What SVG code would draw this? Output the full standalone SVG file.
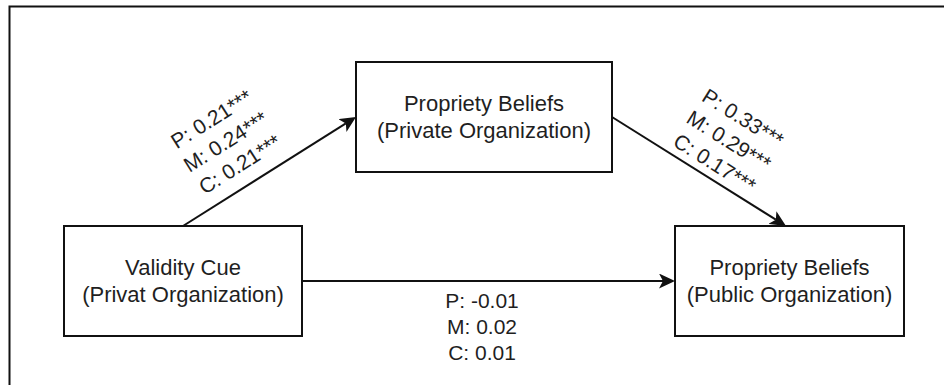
<svg xmlns="http://www.w3.org/2000/svg" width="944" height="385" viewBox="0 0 944 385">
  <style>
    .box { fill: #ffffff; stroke: #111111; stroke-width: 2; }
    .node-text { font-family: "Liberation Sans", Arial, sans-serif; font-size: 22px; fill: #1f1f1f; text-anchor: middle; }
    .label { font-family: "Liberation Sans", Arial, sans-serif; font-size: 21px; fill: #1f1f1f; text-anchor: middle; }
    .edge { fill: none; stroke: #111111; stroke-width: 2; }
    .frame { fill: none; stroke: #111111; stroke-width: 2; }
  </style>
  <defs>
    <marker id="arrow" markerUnits="userSpaceOnUse" markerWidth="16" markerHeight="15" viewBox="0 -7.5 16 15" refX="4" refY="0" orient="auto">
      <path d="M0,-7.5 L16,0 L0,7.5 L4,0 Z" fill="#111111"/>
    </marker>
  </defs>
  <rect width="944" height="385" fill="#ffffff"/>
  <path class="frame" d="M9.5,385 V6.5 H944"/>

  <g id="connectors">
    <line class="edge" x1="183" y1="226" x2="345.85" y2="123.4" marker-end="url(#arrow)"/>
    <line class="edge" x1="612" y1="117" x2="775.83" y2="219.63" marker-end="url(#arrow)"/>
    <line class="edge" x1="302" y1="281" x2="663" y2="281" marker-end="url(#arrow)"/>
    <g transform="translate(225.5,141.5) rotate(-32.2)">
      <text class="label" x="0" y="-19.2">P: 0.21***</text>
      <text class="label" x="0" y="7.5">M: 0.24***</text>
      <text class="label" x="0" y="34.2">C: 0.21***</text>
    </g>
    <g transform="translate(729,140.5) rotate(32.06)">
      <text class="label" x="0" y="-19.2">P: 0.33***</text>
      <text class="label" x="0" y="7.5">M: 0.29***</text>
      <text class="label" x="0" y="34.2">C: 0.17***</text>
    </g>
    <g>
      <text class="label" x="482" y="308">P: -0.01</text>
      <text class="label" x="482" y="334">M: 0.02</text>
      <text class="label" x="482" y="360">C: 0.01</text>
    </g>
  </g>

  <g id="node-validity">
    <rect class="box" x="64" y="226" width="238" height="110"/>
    <text class="node-text" x="183" y="275">Validity Cue</text>
    <text class="node-text" x="183" y="302">(Privat Organization)</text>
  </g>
  <g id="node-private">
    <rect class="box" x="356" y="62" width="256" height="110"/>
    <text class="node-text" x="484" y="111">Propriety Beliefs</text>
    <text class="node-text" x="484" y="138">(Private Organization)</text>
  </g>
  <g id="node-public">
    <rect class="box" x="675" y="226" width="229" height="110"/>
    <text class="node-text" x="789.5" y="275">Propriety Beliefs</text>
    <text class="node-text" x="789.5" y="302">(Public Organization)</text>
  </g>
</svg>
